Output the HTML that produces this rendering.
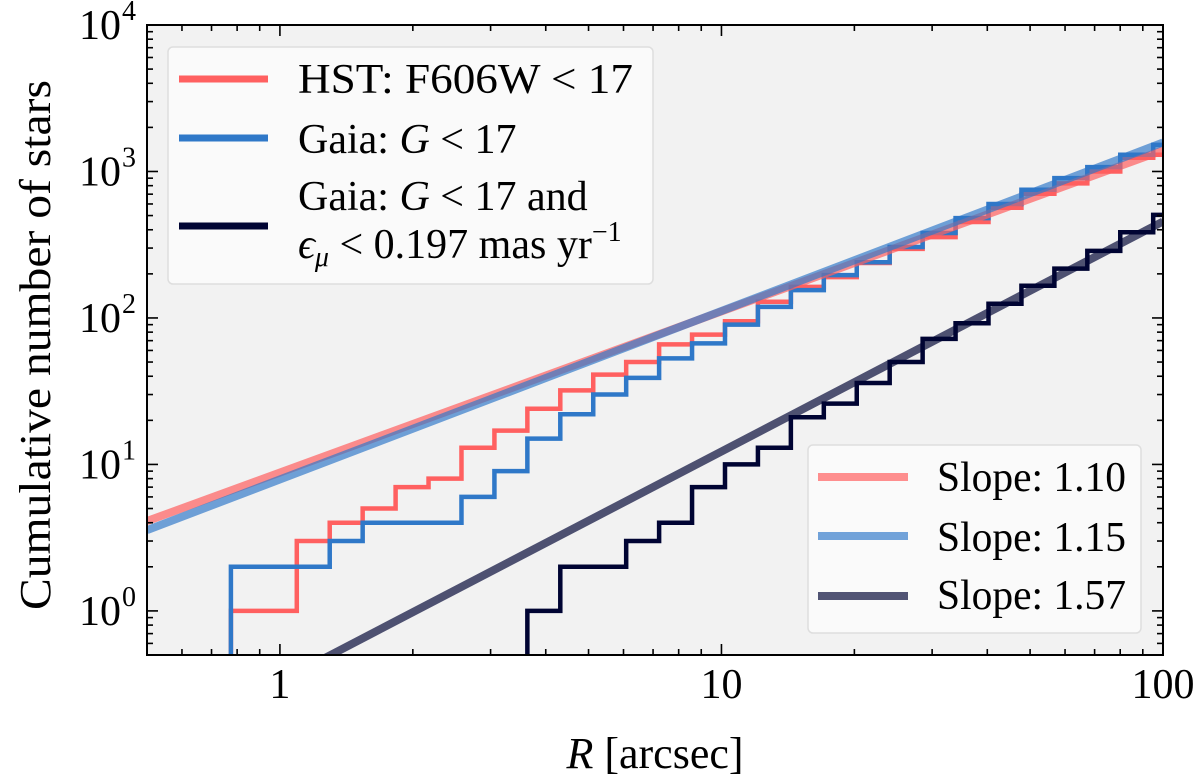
<!DOCTYPE html>
<html><head><meta charset="utf-8"><style>
html,body{margin:0;padding:0;background:#fff;}
svg{display:block;font-family:"Liberation Serif",serif;}
</style></head><body>
<svg id="chart" width="1200" height="784" viewBox="0 0 1200 784" xmlns="http://www.w3.org/2000/svg">
<defs><clipPath id="plotclip"><rect x="147" y="25" width="1016" height="630"/></clipPath></defs>
<rect x="147" y="25" width="1016" height="630" fill="#f2f2f2"/>
<g id="marks" clip-path="url(#plotclip)"></g>
<g id="ticks"></g>
<rect x="147" y="25" width="1016" height="630" fill="none" stroke="#000" stroke-width="2"/>
<g id="labels"></g>
<text x="655" y="768" font-size="44" text-anchor="middle"><tspan font-style="italic">R</tspan> [arcsec]</text>
<text transform="translate(50,345) rotate(-90)" font-size="44" text-anchor="middle" textLength="530" lengthAdjust="spacingAndGlyphs">Cumulative number of stars</text>
<g>
<rect x="168" y="47" width="485" height="237" rx="5" fill="#fafafa" stroke="#dedede" stroke-width="1.5"/>
<line x1="179" y1="79" x2="268" y2="79" stroke="#ff6060" stroke-width="7"/>
<text x="298" y="93" font-size="42" textLength="335" lengthAdjust="spacingAndGlyphs">HST:  F606W &lt; 17</text>
<line x1="179" y1="138" x2="268" y2="138" stroke="#2f78c8" stroke-width="7"/>
<text x="298" y="153" font-size="42">Gaia: <tspan font-style="italic">G</tspan> &lt; 17</text>
<line x1="179" y1="226" x2="268" y2="226" stroke="#000433" stroke-width="7"/>
<text x="298" y="210" font-size="42">Gaia: <tspan font-style="italic">G</tspan> &lt; 17 and</text>
<text x="298" y="258" font-size="42"><tspan font-style="italic">ϵ</tspan><tspan font-style="italic" font-size="28" dy="8">μ</tspan><tspan dy="-8"> &lt; 0.197 mas yr</tspan><tspan font-size="28" dy="-17">−1</tspan></text>
</g>
<g>
<rect x="808" y="445" width="333" height="188" rx="5" fill="#fafafa" stroke="#dedede" stroke-width="1.5"/>
<line x1="818" y1="477" x2="908" y2="477" stroke="#ff6060" stroke-opacity="0.7" stroke-width="8"/>
<text x="937" y="491" font-size="42" textLength="189" lengthAdjust="spacingAndGlyphs">Slope: 1.10</text>
<line x1="818" y1="536" x2="908" y2="536" stroke="#2f78c8" stroke-opacity="0.68" stroke-width="8"/>
<text x="937" y="551" font-size="42" textLength="189" lengthAdjust="spacingAndGlyphs">Slope: 1.15</text>
<line x1="818" y1="596" x2="908" y2="596" stroke="#000433" stroke-opacity="0.68" stroke-width="8"/>
<text x="937" y="609" font-size="42" textLength="189" lengthAdjust="spacingAndGlyphs">Slope: 1.57</text>
</g>
</svg>
<script>
const binStartLog = -0.111;
const binStepLog = 0.0746;
const hstCounts = [1,1,3,4,5,7,8,13,17,24,32,41,50,66,77,95,129,163,190,237,296,356,452,565,705,830,1000,1240,1300];
const gaiaCounts = [2,2,2,3,4,4,4,6,9,15,22,30,39,53,67,90,119,155,196,240,305,380,480,600,750,900,1070,1300,1520];
const gaiaPmCounts = [0,0,0,0,0,0,0,0,0,1,2,2,3,4,7,10,13,21,26,36,50,72,92,125,166,217,287,385,505];
const fitSlopes = [1.10, 1.15, 1.57];
const fitNorms = [8.8, 7.9, 0.33];
const xTickValues = [1, 10, 100];
const xTickLabels = ["1", "10", "100"];
const yTickValues = [1, 10, 100, 1000, 10000];
const yTickExps = ["0", "1", "2", "3", "4"];

const NS = "http://www.w3.org/2000/svg";
const X0 = 147, X1 = 1163, Y0 = 655, Y1 = 25;
const xmin = Math.log10(0.5), xmax = 2, ymin = Math.log10(0.5), ymax = 4;
function xs(v){ return X0 + (Math.log10(v) - xmin) / (xmax - xmin) * (X1 - X0); }
function ys(v){ if (v <= 0) return Y0 + 20; return Y0 - (Math.log10(v) - ymin) / (ymax - ymin) * (Y0 - Y1); }
function xsLog(l){ return X0 + (l - xmin) / (xmax - xmin) * (X1 - X0); }

const marks = document.getElementById('marks');
function stepPath(counts){
  let d = "M" + xsLog(binStartLog) + "," + (Y0 + 20);
  for (let i = 0; i < counts.length; i++) {
    const xa = xsLog(binStartLog + i * binStepLog), xb = xsLog(binStartLog + (i + 1) * binStepLog);
    const y = ys(counts[i]);
    d += " L" + xa + "," + y + " L" + xb + "," + y;
  }
  return d;
}
const stepSeries = [[hstCounts, "#ff6060", "step-hst"], [gaiaCounts, "#2f78c8", "step-gaia"], [gaiaPmCounts, "#000433", "step-gaia-pm"]];
stepSeries.forEach(s => {
  const p = document.createElementNS(NS, 'path');
  p.setAttribute('d', stepPath(s[0]));
  p.setAttribute('fill', 'none');
  p.setAttribute('stroke', s[1]);
  p.setAttribute('stroke-width', '4.5');
  p.setAttribute('stroke-linejoin', 'miter');
  
  
  marks.appendChild(p);
});
const fitColors = ["#ff6060", "#2f78c8", "#000433"];
const fitNames = ["fit-line-hst", "fit-line-gaia", "fit-line-gaia-pm"];
const fitOpac = [0.7, 0.68, 0.68];
fitSlopes.forEach((s, i) => {
  const l = document.createElementNS(NS, 'line');
  const ra = 0.5, rb = 100;
  l.setAttribute('x1', xs(ra)); l.setAttribute('y1', ys(fitNorms[i] * Math.pow(ra, s)));
  l.setAttribute('x2', xs(rb)); l.setAttribute('y2', ys(fitNorms[i] * Math.pow(rb, s)));
  l.setAttribute('stroke', fitColors[i]);
  l.setAttribute('stroke-opacity', fitOpac[i]);
  l.setAttribute('stroke-width', '8');
  
  
  marks.appendChild(l);
});

const ticks = document.getElementById('ticks');
function tline(x1,y1,x2,y2){
  const l = document.createElementNS(NS, 'line');
  l.setAttribute('x1', x1); l.setAttribute('y1', y1); l.setAttribute('x2', x2); l.setAttribute('y2', y2);
  l.setAttribute('stroke', '#000'); l.setAttribute('stroke-width', '1.6');
  
  
  ticks.appendChild(l);
}
[0.1, 1, 10].forEach(dec => {
  for (let m = 1; m <= 9; m++) {
    const v = dec * m; const x = xs(v);
    if (x < X0 - 0.5 || x > X1 + 0.5) continue;
    const L = (m === 1) ? 11 : 6;
    tline(x, Y0, x, Y0 - L); tline(x, Y1, x, Y1 + L);
  }
});
tline(xs(100), Y0, xs(100), Y0 - 11);
[0.1, 1, 10, 100, 1000].forEach(dec => {
  for (let m = 1; m <= 9; m++) {
    const v = dec * m; const y = ys(v);
    if (y > Y0 + 0.5 || y < Y1 - 0.5) continue;
    const L = (m === 1) ? 11 : 6;
    tline(X0, y, X0 + L, y); tline(X1, y, X1 - L, y);
  }
});

const labels = document.getElementById('labels');
xTickValues.forEach((v, i) => {
  const t = document.createElementNS(NS, 'text');
  t.setAttribute('x', xs(v)); t.setAttribute('y', 698);
  t.setAttribute('font-size', '42'); t.setAttribute('text-anchor', 'middle');
  t.textContent = xTickLabels[i];
  
  
  labels.appendChild(t);
});
yTickValues.forEach((v, i) => {
  const t = document.createElementNS(NS, 'text');
  t.setAttribute('x', 121); t.setAttribute('y', ys(v) + 14);
  t.setAttribute('font-size', '42'); t.setAttribute('text-anchor', 'end');
  t.textContent = "10";
  
  
  labels.appendChild(t);
  const e = document.createElementNS(NS, 'text');
  e.setAttribute('x', 122); e.setAttribute('y', ys(v) - 5);
  e.setAttribute('font-size', '28');
  e.textContent = yTickExps[i];
  
  
  labels.appendChild(e);
});
</script>
</body></html>
